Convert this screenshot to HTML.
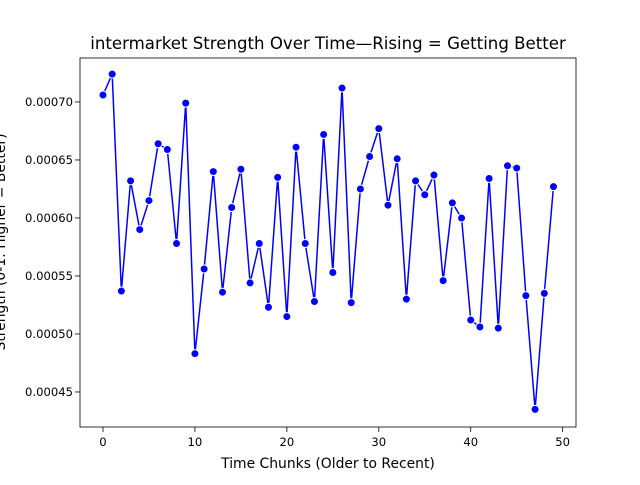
<!DOCTYPE html>
<html><head><meta charset="utf-8"><style>
body{margin:0;background:#fff;}
svg{font-family:"DejaVu Sans","Liberation Sans",sans-serif;}
</style></head><body>
<svg id="chart" width="640" height="480"></svg>
<script>
const xValues=[0,1,2,3,4,5,6,7,8,9,10,11,12,13,14,15,16,17,18,19,20,21,22,23,24,25,26,27,28,29,30,31,32,33,34,35,36,37,38,39,40,41,42,43,44,45,46,47,48,49];
const strength=[0.000706,0.000724,0.000537,0.000632,0.000590,0.000615,0.000664,0.000659,0.000578,0.000699,0.000483,0.000556,0.000640,0.000536,0.000609,0.000642,0.000544,0.000578,0.000523,0.000635,0.000515,0.000661,0.000578,0.000528,0.000672,0.000553,0.000712,0.000527,0.000625,0.000653,0.000677,0.000611,0.000651,0.000530,0.000632,0.000620,0.000637,0.000546,0.000613,0.000600,0.000512,0.000506,0.000634,0.000505,0.000645,0.000643,0.000533,0.000435,0.000535,0.000627];
const xTicks=[0,10,20,30,40,50];
const yTicks=[0.00045,0.00050,0.00055,0.00060,0.00065,0.00070];
const NS="http://www.w3.org/2000/svg";
const svg=document.getElementById('chart');
const L=80,R=576,T=58,B=427;
const xMin=-2.5,xMax=51.45,yMin=0.0004198,yMax=0.0007379;
const sx=v=>L+(v-xMin)/(xMax-xMin)*(R-L);
const sy=v=>B-(v-yMin)/(yMax-yMin)*(B-T);
function mk(tag,attrs,parent){const e=document.createElementNS(NS,tag);for(const k in attrs)e.setAttribute(k,attrs[k]);(parent||svg).appendChild(e);return e;}
const title=mk('text',{x:328,y:49,'text-anchor':'middle','font-size':16.6,fill:'#000'});
title.textContent='intermarket Strength Over Time\u2014Rising = Getting Better';


xTicks.forEach(t=>{const x=sx(t);
 const ln=mk('line',{x1:x,x2:x,y1:B,y2:B+5,stroke:'#000','stroke-width':0.8});
 
 
 const tx=mk('text',{x:x,y:B+19,'text-anchor':'middle','font-size':11.6});tx.textContent=t;
 
 });
yTicks.forEach(t=>{const y=sy(t);
 const ln=mk('line',{x1:L-5,x2:L,y1:y,y2:y,stroke:'#000','stroke-width':0.8});
 
 
 const tx=mk('text',{x:L-7,y:y+4,'text-anchor':'end','font-size':11.6});tx.textContent=t.toFixed(5);
 
 });
const xl=mk('text',{x:328,y:468,'text-anchor':'middle','font-size':13.9});xl.textContent='Time Chunks (Older to Recent)';


const yl=mk('text',{x:0,y:0,'text-anchor':'middle','font-size':13.9,transform:'translate(5,242) rotate(-90)'});yl.textContent='Strength (0-1: Higher = Better)';


const pts=xValues.map((x,i)=>sx(x)+','+sy(strength[i])).join(' ');
const pl=mk('polyline',{points:pts,fill:'none',stroke:'#0000ff','stroke-width':1.5,'stroke-linejoin':'round'});


xValues.forEach((x,i)=>{const c=mk('circle',{cx:sx(x),cy:sy(strength[i]),r:4,fill:'#0000ff',stroke:'#fff','stroke-width':1});
 
 });
const fr=mk('rect',{x:L,y:T,width:R-L,height:B-T,fill:'none',stroke:'#000','stroke-width':0.8});


</script>
</body></html>
